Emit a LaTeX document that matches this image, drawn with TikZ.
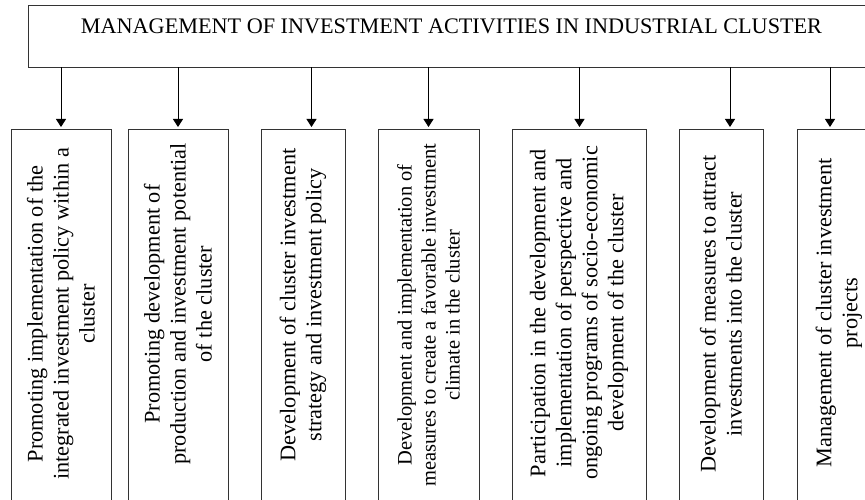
\documentclass[tikz,border=0pt]{standalone}
\usepackage{fontspec}
\setmainfont{Liberation Serif}
\usetikzlibrary{arrows.meta}

\begin{document}
\begin{tikzpicture}[x=1pt, y=-1pt, >={Triangle[length=8pt,width=10pt]},
  box/.style={draw=black!80, line width=0.8pt, anchor=north, minimum height=380pt, inner sep=0pt},
  vtext/.style={rotate=90, align=center, inner sep=0pt, font=\fontsize{22.3}{26}\selectfont},
  arr/.style={->, line width=1pt}]
\clip (0,0) rectangle (865,500);
\node (top) at (451.5,36) [draw=black!80, line width=0.8pt, minimum width=847pt, minimum height=62pt, text height=15pt, text depth=20pt, font=\fontsize{22.2}{26}\selectfont] {MANAGEMENT OF INVESTMENT ACTIVITIES IN INDUSTRIAL CLUSTER};

\node (b1) at (61,129.5) [box, minimum width=100pt] {};
\node (b2) at (178,129.5) [box, minimum width=100pt] {};
\node (b3) at (303,129.5) [box, minimum width=84pt] {};
\node (b4) at (428.5,129.5) [box, minimum width=101pt] {};
\node (b5) at (579,129.5) [box, minimum width=134pt] {};
\node (b6) at (721,129.5) [box, minimum width=84pt] {};
\node (b7) at (839,129.5) [box, minimum width=84pt] {};

\node (t1) at (61,314) [vtext] {Promoting implementation of the\\ integrated investment policy within a\\ cluster};
\node (t2) at (178,304) [vtext] {Promoting development of\\ production and investment potential\\ of the cluster};
\node (t3) at (303,305) [vtext] {Development of cluster investment\\ strategy and investment policy};
\node (t4) at (428.5,315) [vtext, font=\fontsize{20.5}{24}\selectfont] {Development and implementation of\\ measures to create a favorable investment\\ climate in the cluster};
\node (t5) at (579,313) [vtext] {Participation in the development and\\ implementation of perspective and\\ ongoing programs of socio-economic\\ development of the cluster};
\node (t6) at (721,314) [vtext] {Development of measures to attract\\ investments into the cluster};
\node (t7) at (839,313) [vtext] {Management of cluster investment\\ projects};

\coordinate (a1) at (61,127);
\coordinate (a2) at (178,127);
\coordinate (a3) at (311.5,127);
\coordinate (a4) at (428.5,127);
\coordinate (a5) at (579.5,127);
\coordinate (a6) at (730,127);
\coordinate (a7) at (830,127);
\draw[arr] (top.south -| a1) -- (a1);
\draw[arr] (top.south -| a2) -- (a2);
\draw[arr] (top.south -| a3) -- (a3);
\draw[arr] (top.south -| a4) -- (a4);
\draw[arr] (top.south -| a5) -- (a5);
\draw[arr] (top.south -| a6) -- (a6);
\draw[arr] (top.south -| a7) -- (a7);
\end{tikzpicture}
\end{document}
